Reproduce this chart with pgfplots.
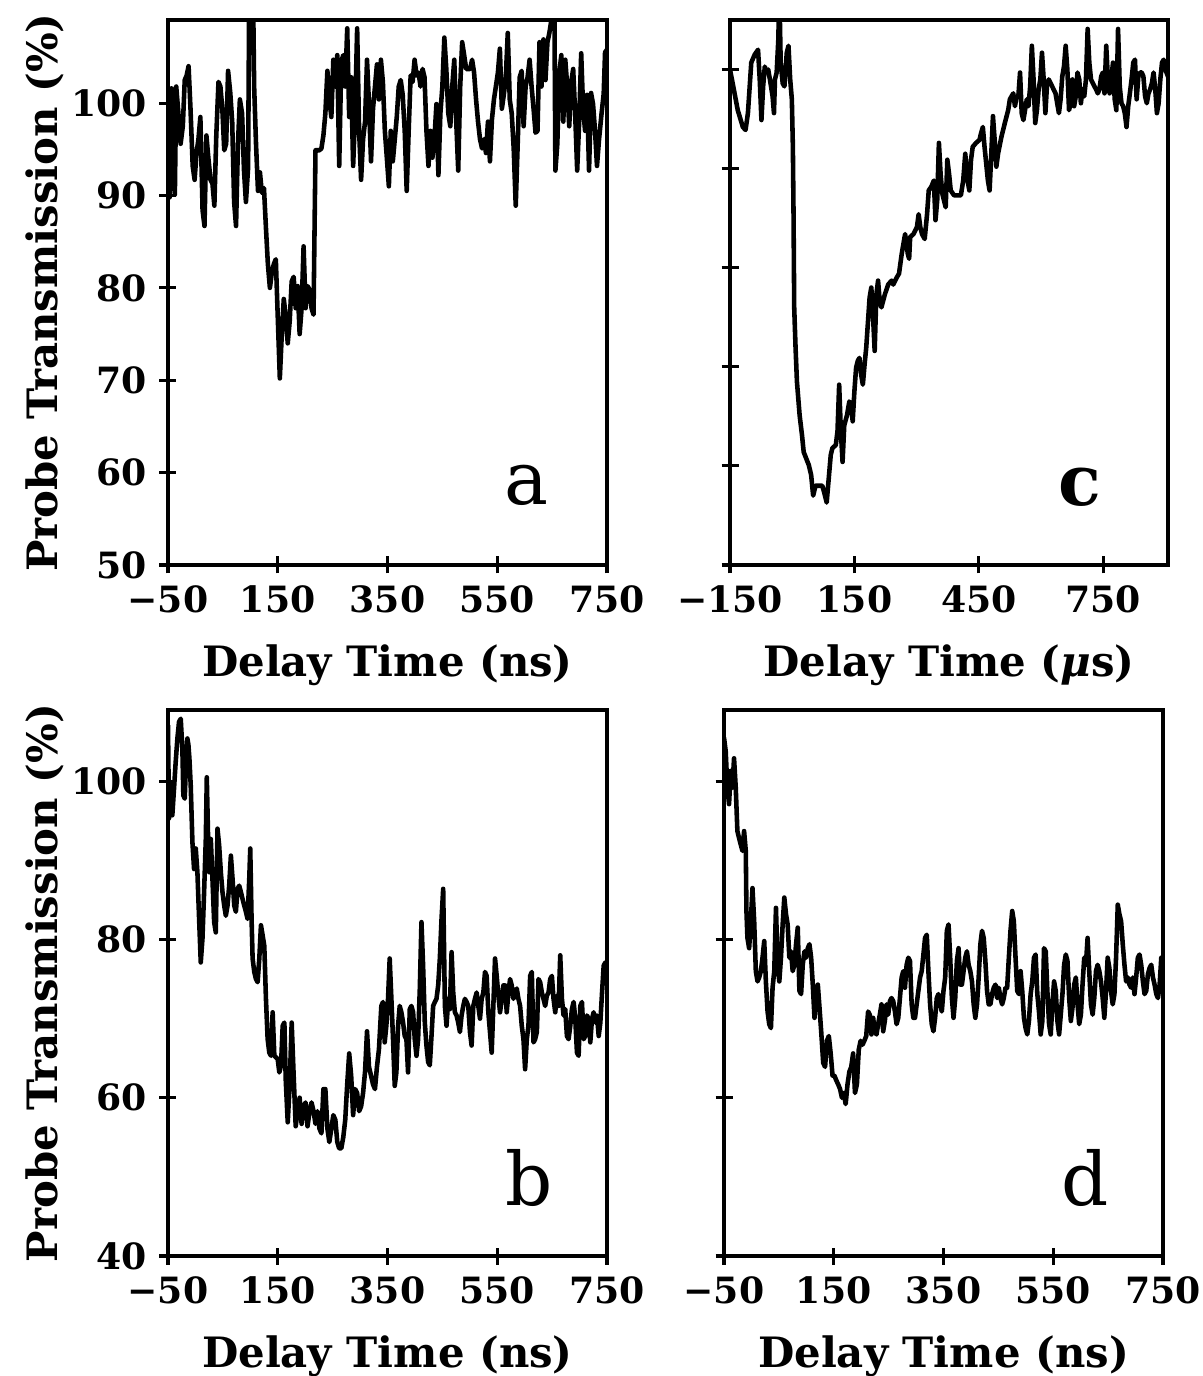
\documentclass[border=0pt]{standalone}
\usepackage{fontspec}
\setmainfont{DejaVu Serif}
\usepackage{pgfplots}
\pgfplotsset{compat=1.18}

% panel a: delay (ns) vs transmission (%)
\pgfplotstableread{
t v
-50 101.8
-47 89.8
-43.5 101.6
-40.5 98.9
-37.5 90.1
-35 101.8
-30.5 98.5
-27 95.6
-23 97.5
-19.5 102.5
-16 103
-12.5 104
-9 99.4
-5 93.2
-1.5 91.7
2 94.6
5.5 96.1
9 98.5
13 88.4
16.5 86.7
20 96.5
23.5 94.1
27.5 91.7
31 91.3
34.5 88.9
38 96.5
42 102.3
45.5 101.8
49 99.4
52.5 94.9
56 95.6
59.5 103.5
63.5 101.1
67 98
70.5 89.3
74 86.7
77.5 95.6
81 100.4
85 98.9
88.5 92.7
92 89.3
96 93
98 112
105 112
107 101.8
110.4 95.6
114 90.5
117.6 92.5
121 90.3
124.9 90.8
128.5 86.5
132 82.6
135.7 80
139.3 81.7
143 82.6
146.5 83.1
150 76.9
153.8 70.2
157.4 75
161 78.8
164.6 76.9
168.2 74
171.8 76.4
175.4 80.7
179 81.2
182.7 77.8
186.3 80.2
189.9 75
193.5 77.8
197.1 84.5
200.7 77.8
204.3 80.2
208 79.8
211.6 77.8
215.2 77.1
218.8 94.9
222.4 94.9
226 94.9
229.6 95.1
233.2 96.5
236.8 98.9
240.5 103.5
244 100.4
247.7 98.5
251.3 104.7
255 101.8
258.5 105.2
262 93.2
265.8 104.5
269.4 105.2
273 101.8
276.6 108.1
280.2 98.5
283.8 102.8
287.4 93.2
291 98.9
294.7 108.1
298.3 97
301.9 91.7
305.5 96.1
309.1 98
312.7 104.7
316.3 99.9
320 93.7
323.6 99.4
327.2 101.8
330.8 104.2
334.4 100.4
338 104.7
341.6 102.3
345.2 97
348.8 94.1
352.5 91
356 97
359.7 93.7
363.3 96.1
366.9 98.5
370.5 101.8
374.1 102.5
377.7 100.9
381.4 97
385 90.5
388.6 97
392.2 103
395.8 102.3
399.4 104.7
403 103
406.6 103.3
410.2 101.8
413.9 103.7
417.5 102.8
421 97
424.7 93.2
428.3 97
431.9 94.1
435.5 96.1
439.2 99.9
442.8 92.2
446.4 98.9
450 101.8
453.6 107.1
457.2 103.7
460.8 98.9
464.5 97.5
468 101.8
471.7 104.7
475.3 98
478.9 92.7
482.5 101.8
486.1 106.6
489.7 105.2
493.4 103.7
497 103.7
500.6 103.7
504.2 104.7
507.8 103.3
511.4 100.4
515 98
518.6 96.1
522.3 95.1
525.9 96.1
529.5 94.6
533.1 98
536.7 93.7
540.3 98.2
544 100.4
547.5 101.8
551.2 103.3
554.8 105.9
558.4 99.4
562 100.9
565.6 102.8
569.2 107.6
572.8 100.4
576.4 98.9
580 95.1
583.7 88.9
587.3 95.6
590.9 102.8
594.5 103.5
598.1 97.5
601.7 101.8
605.3 102.8
609 104.7
612.6 101.8
616.2 99.4
619.8 96.8
623.4 97
627 106.6
630.6 101.8
634.2 106.9
637.9 102.5
641.5 106.6
645 107.6
648.7 109
650 112
654 112
656 92.7
659.5 95.6
663.1 103.3
666.8 105.2
670.4 98
674 104.7
677.6 101.8
681.2 97.5
684.8 102.3
688.4 103.7
692 98.9
695.7 92.7
699.3 98
703 105.4
706.5 99.4
710.1 97
713.7 100.9
717.3 92.7
721 101.1
724.6 99.9
728.2 97
731.8 93.2
735.4 96
740 98.8
744 101
746.5 105.5
750 105.8
}\dataa

% panel c: delay (us)
\pgfplotstableread{
t v
-150 100
-143.5 98.6
-131.3 95.9
-119 94.2
-112.5 93.9
-106.8 95.6
-98.7 100.7
-90.5 101.5
-82.4 102
-78.3 99
-74.2 94.9
-70.1 98.3
-66.1 100.3
-62 99.7
-57.9 100
-53.8 99
-47.3 97.3
-44 95.6
-41.6 99
-37.5 99.7
-33.5 103
-31 108
-27.8 100.7
-22.9 98.6
-18.8 98.3
-13.1 101.7
-9 102.4
-4.9 99
-0.9 97
1.6 92.2
3.2 85.4
4.8 76
8.1 71.9
11.4 68.5
17.9 65.1
23.6 63.1
27.7 61.4
34.2 60.7
39.9 60.1
45.6 59.1
50.5 57
56.2 58
64.3 58
72.5 58
76.6 57.4
83.1 56.3
88.8 59.1
92.9 61.1
96.9 61.8
105.1 62.1
109.2 63.5
113.2 68.2
117.3 63.5
121.4 60.4
125.5 64.1
132 65.1
137.7 66.5
141.8 66.2
145.8 64.5
149.9 67.5
154 69.9
158.1 70.6
162.1 70.9
166.2 69.2
170.3 68.2
174.4 70.2
178.4 71.9
186.6 77
190.7 78
194.7 75.3
198.8 71.6
202.9 77.3
207 78.7
211 76.6
215.1 76
223.3 77.3
231.4 78.3
239.6 78.7
243.6 78.3
251.8 79
257.5 79.4
264 81.4
272.2 83.4
278.7 81.4
281.9 80.9
284.4 83.1
292.5 83.4
300.7 84.1
304.8 85.4
308.8 84.1
312.9 83.4
319.4 82.9
325.1 85.4
329.2 87.8
335.7 88.2
341.4 88.8
345.5 84.8
349.6 86.8
353.7 92.6
357.7 89.5
361.8 87.5
370 86.1
374 90.9
378.1 89.5
382.2 87.8
390.3 87.3
398.5 87.3
406.6 87.3
412.3 88.8
417.2 91.5
422.9 88.8
427 87.8
431.1 90.9
435.2 92.2
443.3 92.6
451.5 92.9
455.5 93.6
459.6 94.2
463.7 92.2
471.8 88.8
475.9 87.8
480 91.5
484 95.3
488.1 92.9
492.2 90.2
496.3 91.5
504.4 93.2
512.6 94.6
520.7 95.9
524.8 97
533 97.6
537 96.3
541.1 97.3
545.2 97.3
549.3 99.7
553.3 95.6
557.4 94.9
565.6 97
569.6 96.3
573.7 98.3
577.8 102.4
581.9 99
585.9 94.6
590 95.9
594.1 98
598.2 99
602.2 101.7
606.3 99
610.4 95.6
614.5 98.6
618.5 99
626.7 98.3
634.8 97.6
643 95.6
647.1 97
651.1 99.3
655.2 100.3
659.3 102.4
663.4 100
667.4 95.9
671.5 96.6
675.6 99
679.7 96.3
683.7 97.3
687.8 99.7
692 99
696 96.6
700 98
704.1 97.3
708.2 99
712.3 104.1
716.3 100.7
720.4 99
728.6 98.3
732.6 98
736.7 97.6
740.8 98
744.9 99.3
748.9 99.7
753 97.6
757.1 102.4
761.2 99
765.2 97.6
769.3 99
773.4 100.7
777.5 97
781.5 95.9
785.6 104.1
789.7 98.3
793.8 96.6
797.8 96.3
801.9 95.6
806 94.2
810.1 96.3
814.1 97.6
818.2 99
822.3 100.7
826.4 101
830.4 97
834.5 99.3
838.6 99.7
842.7 99.7
846.7 99.3
850.8 97.3
854.9 96.6
859 97.6
863 98
867.1 98.6
871.2 99.7
875.3 98
879.3 95.6
883.4 96.6
887.5 99
891.6 100.7
895.6 101
899.7 100
906 99.3
}\datac

% panel b
\pgfplotstableread{
t v
-50 107.1
-48.2 95.3
-45.1 99.9
-42.1 95.7
-39 99.1
-36 102.4
-32.9 105.4
-29.9 107.5
-26.8 107.9
-23.8 104.1
-22 98.2
-19.5 97.8
-17.1 102.4
-14.7 105.4
-12.8 104.6
-11 102.9
-8.6 99.5
-5.5 92.3
-2.5 88.9
0.6 91.5
3.6 88.5
6.7 82.6
9.7 77.1
12.8 80.1
15.8 86
18.9 92.7
20.7 100.5
23.1 92.7
25 88.5
28 92.7
31 87.7
34.1 82.2
37.1 80.9
40.2 94
43.2 91.9
46.3 88.5
49.3 86
52.4 84.3
55.4 83
58.5 84.3
61.5 86.8
64.6 90.6
67.6 87.7
70.7 84.3
73.7 83.5
76.8 86.4
79.8 86.8
82.8 86
85.9 85.1
88.9 84.3
92 83.5
95 82.6
98.1 87.7
99.9 91.5
102.3 82.6
104.2 77.6
107.2 75.9
110.3 75
113.3 74.6
116.4 77.6
119.4 81.8
122.5 80.5
125.5 79.2
128.5 72.5
131.6 67.4
134.6 65.7
137.7 65.3
140.7 70.8
143.8 65.3
149.9 64.9
152.9 63.2
156 64.1
159 69.1
162.1 69.5
164.6 62.2
168.2 56.9
171.8 61.7
175.4 69.5
179 62.8
182.7 56.4
186.3 58.3
189.9 60
193.5 56.7
197.1 58.9
200.7 59.4
204.3 56.4
208 58.3
211.6 59.4
215.2 58.3
218.8 56.7
222.4 58.3
226 56.1
229.6 55.5
233.2 61.1
236.8 61.1
240.5 56.1
244 54.4
247.7 56.1
251.3 57.8
255 57.2
258.5 54.4
262 53.6
265.8 53.6
269.4 55
273 57.2
276.6 61.7
280.2 65.6
283.8 62.8
287.4 57.8
291 61.1
294.7 60.6
298.3 58.3
301.9 58.9
305.5 60.6
309.1 63.3
312.7 68.4
316.3 63.9
320 62.8
323.6 61.7
327.2 61.1
330.8 63.9
334.4 66.1
338.8 71.6
341.8 72.1
344.9 67
347.9 69.1
351 72.5
354 77.6
357.1 72.5
360.1 67.4
363.2 61.5
366.2 63.2
369.3 69.1
372.3 71.6
375.3 70.8
378.4 69.5
381.4 67.8
384.5 67.4
387.5 63.2
390.6 71.2
393.6 71.6
396.7 70.8
399.7 67.4
402.8 65.3
405.8 67.4
408.9 73.8
411.9 82.2
414.9 76.7
418 69.5
421 66.6
424.1 64.5
427.1 64.1
430.2 67.8
433.2 71.6
436.3 72.1
439.3 72.5
442.4 74.2
445.4 77.6
448.5 82.6
451.5 86.4
454.6 71.6
457.6 69.1
460.7 72.5
463.7 71.2
466.8 78.4
469.8 73.3
472.8 70.8
475.9 70.4
478.9 69.5
482 68.3
485 70.4
488.1 71.6
491.1 72.5
494.2 72.1
497.2 71.6
500.3 68.3
503.3 66.6
506.4 71.6
509.4 72.5
512.5 73.3
515.5 71.6
518.6 70
521.6 72.5
524.7 73.3
527.7 75.9
530.7 75.4
533.8 70.8
536.8 68.3
539.9 65.7
542.9 71.6
546 77.6
549 75.4
552.1 72.9
555.1 70.8
558.2 72.5
561.2 74.2
564.3 74.2
567.3 70.8
570.4 73.3
573.4 75
576.4 74.2
579.5 72.5
582.5 73.3
585.6 73.8
588.6 72.5
591.7 71.6
594.7 69.1
597.8 67.4
600.8 63.6
603.9 67.4
606.9 69.1
610 75.4
613 75.9
616.1 67
619.1 67.4
622.2 68.3
625.2 75
628.2 74.6
631.3 73.3
634.3 72.5
637.4 71.6
640.4 72.9
643.5 73.3
646.5 75
649.6 75.4
652.6 72.5
655.7 70.8
658.7 72.9
661.8 71.6
664.8 78
667.9 72.5
670.9 70.4
673.9 71.2
677 67.8
680 67.4
683.1 69.1
686.1 71.2
689.2 72.1
692.2 70
695.3 65.7
698.3 65.3
701.4 71.6
704.4 72.1
707.5 67.4
710.5 67.8
713.6 70.4
716.6 70
719.6 67
722.7 70
725.7 70.8
728.8 69.5
731.8 70.4
734.9 67.8
737.9 69.5
741 73.3
744 76.7
747.1 77.1
750 77.1
}\datab

% panel d
\pgfplotstableread{
t v
-50 105.5
-46.9 103.8
-43.9 99.2
-40.8 97.1
-37.8 101.3
-34.7 99.2
-31.7 102.9
-28.6 99.2
-25.6 93.7
-22.5 92.8
-19.5 92
-16.4 91.2
-13.4 93.7
-10.3 91.2
-9.1 83.6
-7.3 80.2
-4.2 78.9
-1.1 82.3
1.9 86.5
5 82.3
8 76
11.1 74.7
14.1 75.2
17.2 76
20.2 77.7
23.3 79.8
26.3 74.7
29.4 70.9
32.4 69.3
35.5 68.8
38.5 73.9
41.6 76
44.7 84
47.7 76.8
50.8 74.7
53.8 77.7
56.9 81.9
59.9 85.3
63 83.2
66 81.9
69.1 77.7
72.1 78.5
75.2 76
78.2 76.8
81.3 79.4
84.4 81.5
87.4 73.5
90.5 73.1
93.5 76.8
96.6 78.5
99.6 77.7
102.7 78.9
105.7 79.4
108.8 77.7
111.8 74.3
114.9 70.1
117.9 73.1
121 74.3
124 71.4
127.1 68.4
130.8 64.4
134.2 63.9
137.6 67.2
141 67.8
144.4 65.6
147.8 62.8
151.2 62.8
154.6 62.2
158 61.7
161.5 61.1
164.9 60
168.3 60.6
171.7 59.2
175.1 61.7
178.5 63.3
181.9 63.9
185.3 65.6
188.7 60.6
192.2 61.7
195.6 66.1
199 67.2
202.4 66.7
205.8 67.2
209.2 67.8
212.6 70.9
215.6 70.5
218.7 68
221.8 70.1
224.8 68.4
227.9 68
230.9 69.3
234 70.5
237 71.8
240.1 68.4
243.1 69.7
246.2 71.8
249.2 70.5
252.3 72.2
255.3 72.6
258.4 72.2
261.5 70.9
264.5 69.3
267.6 70.1
270.6 72.6
273.7 75.2
276.7 76
279.8 73.9
282.8 76.8
285.9 77.7
288.9 77.3
292 71.8
295 70.1
298.1 70.1
301.1 71.8
304.2 73.5
307.3 75.2
310.3 76
313.4 78.1
316.4 80.2
319.5 80.6
322.5 76
325.6 71.8
328.6 69.3
331.7 68.4
334.7 70.1
337.8 72.6
340.8 73.1
343.9 71.8
346.9 70.9
350 73.5
353.1 75.2
356.1 81.1
359.2 81.9
362.2 77.7
365.3 72.6
368.3 70.1
371.4 72.6
374.4 77.3
377.5 78.9
380.5 74.3
383.6 74.3
386.6 76
389.7 77.7
392.7 78.5
395.8 76.8
398.9 76
401.9 74.7
405 71.8
408 70.1
411.1 71.8
414.1 75.2
417.2 79.4
420.2 81.1
423.3 80.2
426.3 77.3
429.4 73.5
432.4 71.8
435.5 71.8
438.5 73.1
441.6 73.9
444.7 74.3
447.7 72.6
450.8 73.9
453.8 72.6
456.9 71.8
459.9 72.6
463 73.9
466 73.9
469.1 77.7
472.1 81.1
475.2 83.6
478.2 82.3
481.3 77.7
484.4 73.5
487.4 73.1
490.5 76
493.5 73.5
496.6 70.1
499.6 68.8
502.7 68
505.7 69.7
508.8 73.1
511.8 74.7
514.9 77.7
517.9 78.1
521 73.1
524 70.9
527.1 68
530.2 69.7
533.2 78.9
536.3 78.5
539.3 73.5
542.4 69.3
545.4 68
548.5 71.8
551.5 74.7
554.6 73.5
557.6 69.7
560.7 68
563.7 70.5
566.8 73.1
569.8 76.8
572.9 78.1
575.9 77.3
579 72.6
582.1 69.7
585.1 71.4
588.2 74.3
591.2 75.2
594.3 71.8
597.3 69.3
600.4 70.5
603.4 74.3
606.5 77.7
609.5 76.8
612.6 80.2
615.6 76
618.7 71.8
621.8 70.5
624.8 72.6
627.9 76
630.9 76.8
634 76
637 74.7
640.1 72.6
643.1 70.1
646.2 73.5
649.2 77.7
652.3 76.4
655.3 73.5
658.4 71.8
661.5 73.1
664.5 77.7
667.6 84.4
670.6 83.2
673.7 82.3
676.7 79.4
679.8 76.8
682.8 74.7
685.9 75.2
688.9 74.3
692 73.9
695 75.2
698.1 73.1
701.1 75.2
704.2 77.7
707.3 78.1
710.3 76.8
713.4 74.7
716.4 73.1
719.5 73.5
722.5 75.6
725.6 76.4
728.6 76.8
731.7 75.2
734.7 74.3
737.8 73.1
740.8 72.6
743.9 74.3
746.9 77.7
750 76
}\datad

\pgfplotsset{
  panel/.style={
    scale only axis,
    width=43.9mm, height=54.5mm,
    axis line style={line width=0.9pt},
    every tick/.style={line width=0.9pt, black},
    tick align=center,
    major tick length=1.7mm,
    xtick pos=lower, ytick pos=left,
    ticklabel style={font=\fontsize{10.3}{12}\selectfont\bfseries},
    label style={font=\fontsize{11.9}{14}\selectfont\bfseries},
    xlabel style={at={(axis description cs:0.5,-0.205)}, anchor=base},
    ylabel style={at={(axis description cs:-0.28,0.5)}, anchor=center},
  },
  trace/.style={black, line width=1.3pt, line join=round, mark=none},
}

\begin{document}
\begin{tikzpicture}
\path[use as bounding box] (0,0) rectangle (120.3mm,137.6mm);

% a
\begin{axis}[panel, at={(16.8mm,81.1mm)}, anchor=south west,
  xmin=-50, xmax=750, ymin=50, ymax=109,
  xtick={-50,150,350,550,750},
  xticklabels={−50,150,350,550,750},
  ytick={50,60,70,80,90,100},
  yticklabels={50,60,70,80,90,100},
  xlabel={Delay Time (ns)},
  ylabel={Probe Transmission (\%)}]
\addplot[trace] table[x=t, y=v] {\dataa};
\node[font=\fontsize{21}{24}\selectfont, anchor=base] at (axis cs:604,56.5) {a};
\end{axis}

% c
\begin{axis}[panel, at={(73.0mm,81.1mm)}, anchor=south west, width=43.8mm,
  xmin=-150, xmax=906, ymin=50, ymax=105,
  xtick={-150,150,450,750},
  xticklabels={−150,150,450,750},
  ytick={50,60,70,80,90,100},
  yticklabels={},
  xlabel={Delay Time (\textit{μ}s)}]
\addplot[trace] table[x=t, y=v] {\datac};
\node[font=\fontsize{20}{24}\selectfont\bfseries, anchor=base] at (axis cs:694,56) {c};
\end{axis}

% b
\begin{axis}[panel, at={(16.8mm,12.0mm)}, anchor=south west, height=54.6mm,
  xmin=-50, xmax=750, ymin=40, ymax=109,
  xtick={-50,150,350,550,750},
  xticklabels={−50,150,350,550,750},
  ytick={40,60,80,100},
  yticklabels={40,60,80,100},
  xlabel={Delay Time (ns)},
  ylabel={Probe Transmission (\%)}]
\addplot[trace] table[x=t, y=v] {\datab};
\node[font=\fontsize{21}{24}\selectfont, anchor=base] at (axis cs:609,46.4) {b};
\end{axis}

% d
\begin{axis}[panel, at={(72.4mm,12.0mm)}, anchor=south west, height=54.6mm,
  xmin=-50, xmax=750, ymin=40, ymax=109,
  xtick={-50,150,350,550,750},
  xticklabels={−50,150,350,550,750},
  ytick={40,60,80,100},
  yticklabels={},
  xlabel={Delay Time (ns)}]
\addplot[trace] table[x=t, y=v] {\datad};
\node[font=\fontsize{21}{24}\selectfont, anchor=base] at (axis cs:609,46.4) {d};
\end{axis}
\end{tikzpicture}
\end{document}
